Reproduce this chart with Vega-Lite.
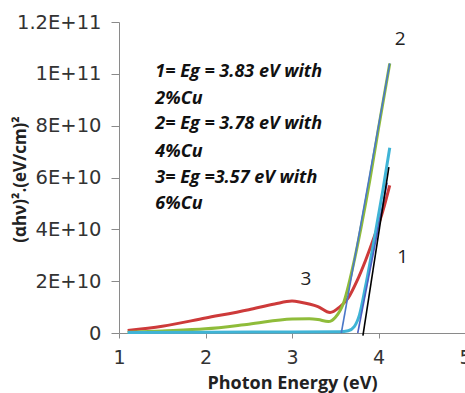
{
  "$schema": "https://vega.github.io/schema/vega-lite/v6.json",
  "autosize": "none",
  "width": 346,
  "height": 311,
  "padding": {"left": 119, "top": 22, "right": 0, "bottom": 60},
  "background": "white",
  "config": {"view": {"stroke": null}},
  "datasets": {
    "curves": [
      {"s": "6%Cu", "x": 1.1, "y": 1.0e9}, {"s": "6%Cu", "x": 1.5, "y": 2.6e9}, {"s": "6%Cu", "x": 2.0, "y": 5.8e9}, {"s": "6%Cu", "x": 2.5, "y": 9.0e9}, {"s": "6%Cu", "x": 2.8, "y": 11.2e9}, {"s": "6%Cu", "x": 3.0, "y": 12.3e9}, {"s": "6%Cu", "x": 3.1, "y": 11.9e9}, {"s": "6%Cu", "x": 3.3, "y": 10.2e9}, {"s": "6%Cu", "x": 3.44, "y": 7.9e9}, {"s": "6%Cu", "x": 3.55, "y": 10.0e9}, {"s": "6%Cu", "x": 3.65, "y": 13.5e9}, {"s": "6%Cu", "x": 3.75, "y": 20.0e9}, {"s": "6%Cu", "x": 3.85, "y": 28.0e9}, {"s": "6%Cu", "x": 3.95, "y": 37.0e9}, {"s": "6%Cu", "x": 4.05, "y": 47.0e9}, {"s": "6%Cu", "x": 4.13, "y": 57.0e9},
      {"s": "4%Cu", "x": 1.1, "y": 0.3e9}, {"s": "4%Cu", "x": 1.5, "y": 0.8e9}, {"s": "4%Cu", "x": 2.0, "y": 1.6e9}, {"s": "4%Cu", "x": 2.5, "y": 3.4e9}, {"s": "4%Cu", "x": 3.0, "y": 5.4e9}, {"s": "4%Cu", "x": 3.2, "y": 5.5e9}, {"s": "4%Cu", "x": 3.3, "y": 5.2e9}, {"s": "4%Cu", "x": 3.42, "y": 4.4e9}, {"s": "4%Cu", "x": 3.5, "y": 6.0e9}, {"s": "4%Cu", "x": 3.6, "y": 12.0e9}, {"s": "4%Cu", "x": 3.7, "y": 25.0e9}, {"s": "4%Cu", "x": 3.8, "y": 41.0e9}, {"s": "4%Cu", "x": 3.9, "y": 59.0e9}, {"s": "4%Cu", "x": 4.0, "y": 79.0e9}, {"s": "4%Cu", "x": 4.13, "y": 104.0e9},
      {"s": "2%Cu", "x": 1.1, "y": 0.2e9}, {"s": "2%Cu", "x": 2.0, "y": 0.3e9}, {"s": "2%Cu", "x": 3.0, "y": 0.4e9}, {"s": "2%Cu", "x": 3.55, "y": 0.5e9}, {"s": "2%Cu", "x": 3.65, "y": 0.9e9}, {"s": "2%Cu", "x": 3.72, "y": 2.5e9}, {"s": "2%Cu", "x": 3.78, "y": 7.0e9}, {"s": "2%Cu", "x": 3.85, "y": 18.0e9}, {"s": "2%Cu", "x": 3.95, "y": 36.0e9}, {"s": "2%Cu", "x": 4.05, "y": 55.0e9}, {"s": "2%Cu", "x": 4.13, "y": 71.5e9}
    ],
    "tangents": [
      {"t": "a", "x": 3.57, "y": 0}, {"t": "a", "x": 4.13, "y": 104.0e9},
      {"t": "b", "x": 3.76, "y": 0}, {"t": "b", "x": 4.1, "y": 58.0e9},
      {"t": "c", "x": 3.82, "y": -1.0e9}, {"t": "c", "x": 4.12, "y": 64.0e9}
    ],
    "notes": [
      {"x": 1.42, "y": 10.06e10, "text": "1= Eg = 3.83 eV with"},
      {"x": 1.42, "y": 9.01e10, "text": "2%Cu"},
      {"x": 1.42, "y": 8.05e10, "text": "2= Eg = 3.78 eV with"},
      {"x": 1.42, "y": 7.0e10, "text": "4%Cu"},
      {"x": 1.42, "y": 6.0e10, "text": "3= Eg =3.57 eV with"},
      {"x": 1.42, "y": 4.99e10, "text": "6%Cu"}
    ],
    "nums": [
      {"x": 4.28, "y": 2.95e10, "text": "1"},
      {"x": 4.25, "y": 11.33e10, "text": "2"},
      {"x": 3.16, "y": 2.1e10, "text": "3"}
    ]
  },
  "encoding": {
    "x": {
      "field": "x", "type": "quantitative",
      "scale": {"domain": [1, 5], "nice": false, "zero": false},
      "axis": {
        "values": [1, 2, 3, 4, 5], "grid": false,
        "title": "Photon Energy (eV)",
        "titleFont": "Open Sans", "titleFontSize": 18, "titleFontWeight": "bold", "titleColor": "#222",
        "titleY": 50, "titleBaseline": "middle",
        "labelFont": "DejaVu Sans", "labelFontSize": 19, "labelColor": "#333", "labelPadding": 10,
        "labelFlush": false, "labelOverlap": false,
        "domainColor": "#8a8a8a", "tickColor": "#8a8a8a", "tickSize": 5
      }
    },
    "y": {
      "field": "y", "type": "quantitative",
      "scale": {"domain": [0, 1.2e11], "nice": false},
      "axis": {
        "values": [0, 2e10, 4e10, 6e10, 8e10, 1e11, 1.2e11], "grid": false,
        "labelExpr": "datum.value == 0 ? '0' : format(datum.value / pow(10, floor(log(datum.value) / LN10 + 1e-9)), '.2~') + 'E+' + floor(log(datum.value) / LN10 + 1e-9)",
        "title": "(αhν)².(eV/cm)²",
        "titleFont": "Open Sans", "titleFontSize": 17, "titleFontWeight": "bold", "titleColor": "#222",
        "titleX": -99, "titleY": 157, "titleAngle": -90, "titleAlign": "center", "titleBaseline": "middle",
        "labelFont": "DejaVu Sans", "labelFontSize": 19.5, "labelColor": "#333", "labelPadding": 10,
        "labelFlush": false, "labelOverlap": false,
        "domainColor": "#8a8a8a", "tickColor": "#8a8a8a", "tickSize": 8
      }
    }
  },
  "layer": [
    {
      "data": {"name": "curves"},
      "mark": {"type": "line", "strokeWidth": 3, "interpolate": "monotone"},
      "encoding": {
        "detail": {"field": "s"},
        "color": {
          "field": "s", "type": "nominal", "legend": null,
          "scale": {"domain": ["6%Cu", "4%Cu", "2%Cu"], "range": ["#cd3a3a", "#8fbc3a", "#3fb4d6"]}
        }
      }
    },
    {
      "data": {"name": "tangents"},
      "mark": {"type": "line", "strokeWidth": 1.6},
      "encoding": {
        "detail": {"field": "t"},
        "stroke": {
          "field": "t", "type": "nominal", "legend": null,
          "scale": {"domain": ["a", "b", "c"], "range": ["#4a78c8", "#4a5fc4", "#000000"]}
        }
      }
    },
    {
      "data": {"name": "notes"},
      "mark": {"type": "text", "align": "left", "baseline": "middle", "font": "Open Sans", "fontSize": 18, "fontWeight": "bold", "fontStyle": "italic", "color": "#111"},
      "encoding": {"text": {"field": "text"}}
    },
    {
      "data": {"name": "nums"},
      "mark": {"type": "text", "align": "center", "baseline": "middle", "font": "Open Sans", "fontSize": 19, "color": "#222"},
      "encoding": {"text": {"field": "text"}}
    }
  ]
}
